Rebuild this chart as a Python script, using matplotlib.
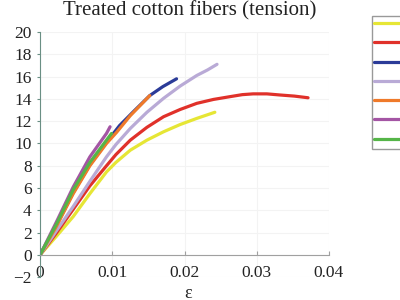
import matplotlib
matplotlib.use("Agg")
import matplotlib.pyplot as plt
from matplotlib.ticker import FuncFormatter

plt.rcParams['font.family'] = ['Liberation Serif', 'DejaVu Serif']

# Data (strain, stress)
yellow_x = [0, 0.0023, 0.0046, 0.0069, 0.0092, 0.0105, 0.0125, 0.0148, 0.0171, 0.0194, 0.0217, 0.0242]
yellow_y = [0, 1.7, 3.45, 5.5, 7.45, 8.3, 9.4, 10.3, 11.05, 11.7, 12.25, 12.8]

red_x = [0, 0.0023, 0.0046, 0.0069, 0.0092, 0.0105, 0.0125, 0.0148, 0.0171, 0.0194, 0.0217,
         0.0240, 0.0263, 0.0280, 0.0295, 0.0314, 0.0332, 0.0352, 0.0371]
red_y = [0, 2.0, 4.1, 6.2, 8.0, 9.0, 10.3, 11.45, 12.4, 13.05, 13.6,
         13.95, 14.2, 14.38, 14.45, 14.45, 14.35, 14.25, 14.1]

blue_x = [0, 0.0023, 0.0046, 0.0069, 0.0092, 0.0110, 0.0130, 0.0152, 0.0170, 0.0189]
blue_y = [0, 2.7, 5.6, 8.1, 10.1, 11.6, 12.9, 14.3, 15.1, 15.8]

lavender_x = [0, 0.0023, 0.0046, 0.0069, 0.0092, 0.0105, 0.0125, 0.0148, 0.0171, 0.0194, 0.0217, 0.0232, 0.0245]
lavender_y = [0, 2.2, 4.35, 6.6, 8.8, 9.9, 11.35, 12.8, 14.05, 15.15, 16.1, 16.6, 17.1]

orange_x = [0, 0.0023, 0.0046, 0.0069, 0.0092, 0.0106, 0.0125, 0.0140, 0.0152]
orange_y = [0, 2.6, 5.5, 8.0, 10.0, 11.0, 12.5, 13.5, 14.3]

purple_x = [0, 0.0023, 0.0046, 0.0069, 0.0092, 0.0097]
purple_y = [0, 3.0, 6.1, 8.8, 10.9, 11.5]

green_x = [0, 0.0023, 0.0046, 0.0069, 0.0092, 0.0099]
green_y = [0, 2.8, 5.85, 8.3, 10.3, 10.9]

series = [
    ("Sample 1", yellow_x, yellow_y, "#e6e635"),
    ("Sample 2", red_x, red_y, "#e0312a"),
    ("Sample 3", blue_x, blue_y, "#2b3b98"),
    ("Sample 4", lavender_x, lavender_y, "#b9aad6"),
    ("Sample 5", orange_x, orange_y, "#ef7a2a"),
    ("Sample 6", purple_x, purple_y, "#a455a4"),
    ("Sample 7", green_x, green_y, "#55b548"),
]

x_ticks = [0, 0.01, 0.02, 0.03, 0.04]
x_tick_labels = ["0", "0.01", "0.02", "0.03", "0.04"]
y_ticks = [-2, 0, 2, 4, 6, 8, 10, 12, 14, 16, 18, 20]

fig = plt.figure(figsize=(4, 3), dpi=100)
ax = fig.add_axes([0.1, 0.0757, 0.7225, 0.8177])

lines = []
for name, xs, ys, c in series:
    ln, = ax.plot(xs, ys, color=c, lw=2.3, label=name,
                  solid_capstyle='round', solid_joinstyle='round')
    lines.append(ln)

ax.set_xlim(0, 0.04)
ax.set_ylim(-2, 20)
ax.set_xticks(x_ticks)
ax.set_xticklabels(x_tick_labels)
ax.set_yticks(y_ticks)
ax.yaxis.set_major_formatter(FuncFormatter(lambda v, p: ("\u2212%d" % abs(v)) if v < 0 else "%d" % v))

ax.grid(True, color="#f3f3f3", lw=0.8)
ax.set_axisbelow(True)
for s in ["top", "right"]:
    ax.spines[s].set_visible(False)
ax.spines["bottom"].set_position(("data", 0))
ax.spines["bottom"].set_color("#a0a0a0")
ax.spines["left"].set_color("#6a8f84")
ax.tick_params(axis="x", direction="in", length=3, color="#a0a0a0", pad=7,
               labelsize=12.5, labelcolor="#222222")
ax.tick_params(axis="y", direction="out", length=2, color="#6a8f84", pad=4,
               labelsize=12.5, labelcolor="#222222")

fig.text(190 / 400, 1 - 11 / 300, "Treated cotton fibers (tension)", ha="center",
         va="center", fontsize=15, color="#222222")
fig.text(188 / 400, 1 - 293 / 300, "\u03b5", ha="center", va="center",
         fontsize=13, color="#222222")

# Legend labels are cut off by the image edge in the reference; only the handles show.
fig.legend(handles=lines, labels=[" "] * len(lines), loc="upper left",
           bbox_to_anchor=(372 / 400, 1 - 16 / 300),
           borderaxespad=0, borderpad=0.15, labelspacing=0.45, fontsize=10,
           handlelength=3.0, handletextpad=1.5, frameon=True, fancybox=False,
           edgecolor="#999999", framealpha=1)

fig.savefig("out.png", dpi=100)
